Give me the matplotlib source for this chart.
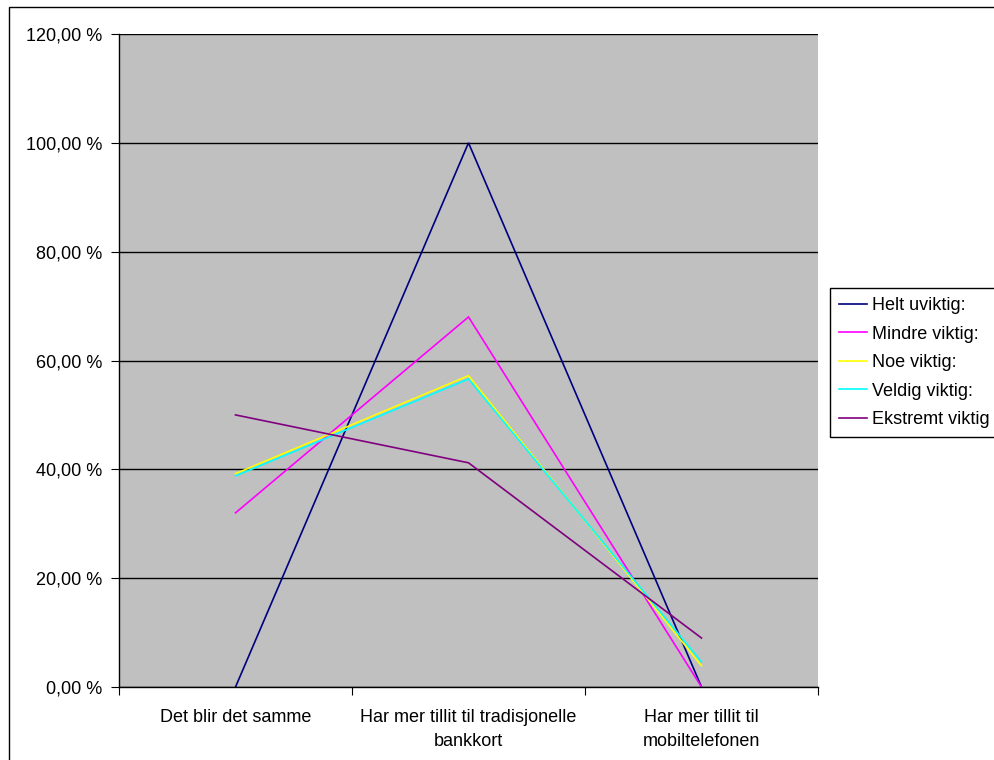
import numpy as np
import matplotlib.pyplot as plt
from matplotlib.patches import Rectangle
from matplotlib.ticker import FuncFormatter

## Data
categories = ['Det blir det samme',
              'Har mer tillit til tradisjonelle\nbankkort',
              'Har mer tillit til\nmobiltelefonen']
series_names = ['Helt uviktig:', 'Mindre viktig:', 'Noe viktig:',
                'Veldig viktig:', 'Ekstremt viktig']
helt_uviktig = [0.0, 100.0, 0.0]
mindre_viktig = [32.0, 68.0, 0.0]
noe_viktig = [39.2, 57.2, 3.9]
veldig_viktig = [38.8, 56.6, 4.6]
ekstremt_viktig = [50.0, 41.2, 9.0]
colors = ['#000080', '#ff00ff', '#ffff00', '#00ffff', '#800080']

plt.rcParams['font.family'] = ['Liberation Sans', 'DejaVu Sans']
fs = 13

fig = plt.figure(figsize=(9.94, 7.6), dpi=100)
# outer chart border (clipped at right and bottom like the reference)
fig.patches.append(Rectangle((9/994, -0.05), 1.0, 1 - 7/760 + 0.05,
                             transform=fig.transFigure, fill=False,
                             edgecolor='black', linewidth=1.0))

ax = fig.add_axes([119/994, 73/760, 699/994, 653/760])
ax.set_facecolor('#c0c0c0')

x = np.arange(len(categories))
all_series = [helt_uviktig, mindre_viktig, noe_viktig, veldig_viktig,
              ekstremt_viktig]
for vals, name, col in zip(all_series, series_names, colors):
    ax.plot(x, vals, color=col, linewidth=1.2, label=name,
            solid_joinstyle='miter')

ax.set_xlim(-0.5, len(categories) - 0.5)
ax.set_ylim(0, 120)
ax.set_yticks(np.arange(0, 121, 20))
ax.yaxis.set_major_formatter(FuncFormatter(
    lambda v, p: ('%.2f' % v).replace('.', ',') + ' %'))
ax.yaxis.grid(True, color='black', linewidth=1.0)
ax.set_axisbelow(True)

# category labels centred, tick marks between categories
ax.set_xticks(np.arange(-0.5, len(categories)), minor=False)
ax.set_xticklabels([])
ax.set_xticks(x, minor=True)
ax.set_xticklabels(categories, minor=True, fontsize=fs, linespacing=1.55)
ax.tick_params(axis='x', which='minor', length=0, pad=16)
ax.tick_params(axis='x', which='major', length=6, direction='out',
               color='black')
ax.tick_params(axis='y', length=6, direction='out', pad=6, labelsize=fs)

for side in ['top', 'right']:
    ax.spines[side].set_visible(False)
ax.spines['left'].set_linewidth(1.0)
ax.spines['bottom'].set_linewidth(1.0)

leg = ax.legend(loc='upper left', bbox_to_anchor=(830/994, 1 - 288/760),
                bbox_transform=fig.transFigure, fancybox=False,
                edgecolor='black', framealpha=1, fontsize=fs,
                handlelength=1.55, handletextpad=0.25, borderpad=0.5,
                labelspacing=0.64, borderaxespad=0, handleheight=0.7)
leg.get_frame().set_linewidth(1.0)

fig.savefig('out.png', dpi=100)
